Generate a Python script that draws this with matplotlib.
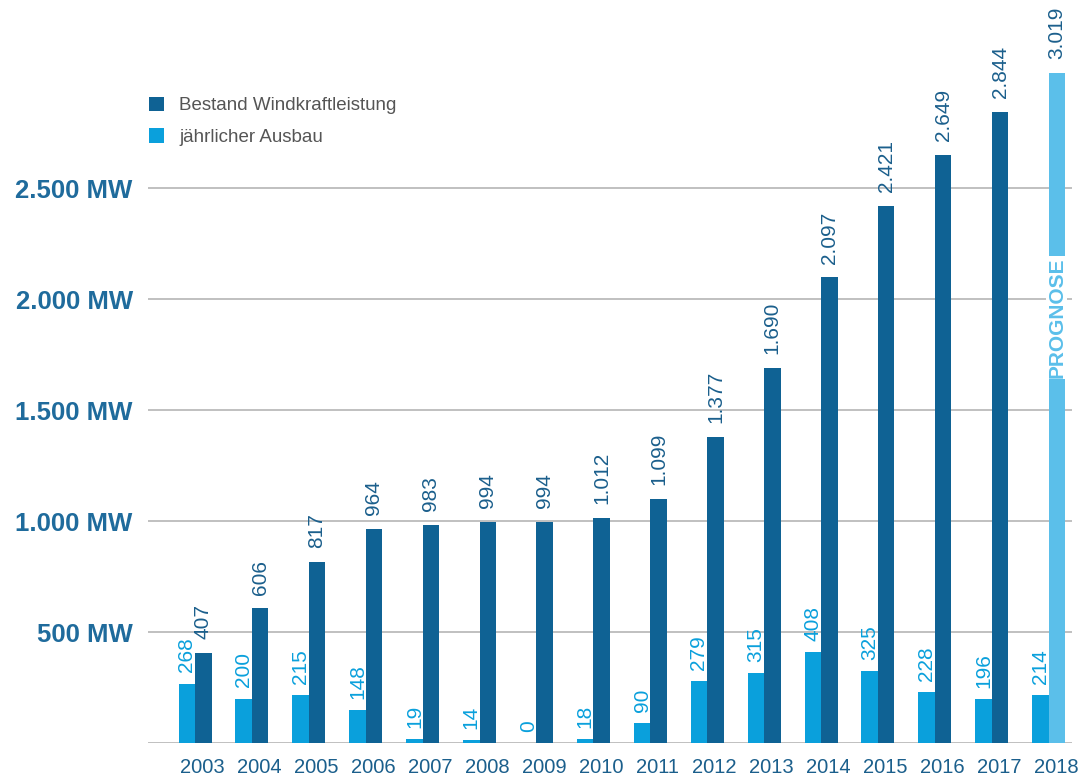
import matplotlib
matplotlib.use("Agg")
import matplotlib.pyplot as plt
import numpy as np
from matplotlib.patches import Patch

years = ["2003", "2004", "2005", "2006", "2007", "2008", "2009", "2010",
         "2011", "2012", "2013", "2014", "2015", "2016", "2017", "2018"]
annual = [268, 200, 215, 148, 19, 14, 0, 18, 90, 279, 315, 408, 325, 228, 196, 214]
total = [407, 606, 817, 964, 983, 994, 994, 1012, 1099, 1377, 1690, 2097, 2421, 2649, 2844, 3019]
yticks = [500, 1000, 1500, 2000, 2500]
ytick_labels = ["500 MW", "1.000 MW", "1.500 MW", "2.000 MW", "2.500 MW"]
legend_labels = ["Bestand Windkraftleistung", "jährlicher Ausbau"]
forecast_text = "PROGNOSE"

DARK = "#0f6294"
LIGHT = "#0aa0dc"
FORE = "#5bbfea"
TXT_DARK = "#1b5f8c"

plt.rcParams['font.family'] = ['Liberation Sans', 'DejaVu Sans']

fig = plt.figure(figsize=(10.79, 7.76), dpi=100)
ax = fig.add_axes([148/1079, 1 - 743/776, (1072-148)/1079, 743/776])

x = np.arange(len(years))
w = 0.29
tot_colors = [DARK] * (len(years) - 1) + [FORE]

ax.bar(x - w/2, annual, width=w, color=LIGHT, zorder=3)
ax.bar(x + w/2, total, width=w, color=tot_colors, zorder=3)

def fmt(v):
    return f"{v:,}".replace(",", ".")

for i in range(len(years)):
    ax.annotate(fmt(annual[i]), (x[i] - w/2, annual[i]), xytext=(0, 8),
                textcoords="offset points", rotation=90, ha="center", va="bottom",
                fontsize=15, color=LIGHT, zorder=4)
    ax.annotate(fmt(total[i]), (x[i] + w/2, total[i]), xytext=(0, 10),
                textcoords="offset points", rotation=90, ha="center", va="bottom",
                fontsize=15, color=TXT_DARK, zorder=4)

# forecast label inside the 2018 bar
ax.text(x[-1] + w/2, total[-1] * 0.635, forecast_text, rotation=90,
        ha="center", va="center", fontsize=15, fontweight="bold", color=FORE,
        zorder=5, bbox=dict(boxstyle="square,pad=0.05", facecolor="white", edgecolor="none"))

ax.set_xlim(-0.826, 15.41)
ax.set_ylim(0, 3347)
ax.set_yticks([0] + yticks)
ax.set_yticklabels([""] + ytick_labels)
ax.set_xticks(x + 0.13)
ax.set_xticklabels(years)
ax.grid(axis="y", color="#b5b5b5", linewidth=1.2, zorder=0)
ax.tick_params(axis="y", length=0, pad=11, labelsize=18.5, labelcolor="#1f6b9c")
for t in ax.get_yticklabels():
    t.set_fontweight("bold")
ax.tick_params(axis="x", length=0, pad=11, labelsize=14.5, labelcolor=TXT_DARK)
for s in ax.spines.values():
    s.set_visible(False)

handles = [Patch(facecolor=DARK, edgecolor="none"), Patch(facecolor=LIGHT, edgecolor="none")]
leg = fig.legend(handles, legend_labels, loc="upper left",
                 bbox_to_anchor=(141/1079, 1 - 89/776), frameon=False,
                 fontsize=13.5, handlelength=0.85, handleheight=0.85, handletextpad=0.8,
                 labelspacing=0.72, borderaxespad=0)
for t in leg.get_texts():
    t.set_color("#555555")

fig.savefig("out.png", dpi=100)
